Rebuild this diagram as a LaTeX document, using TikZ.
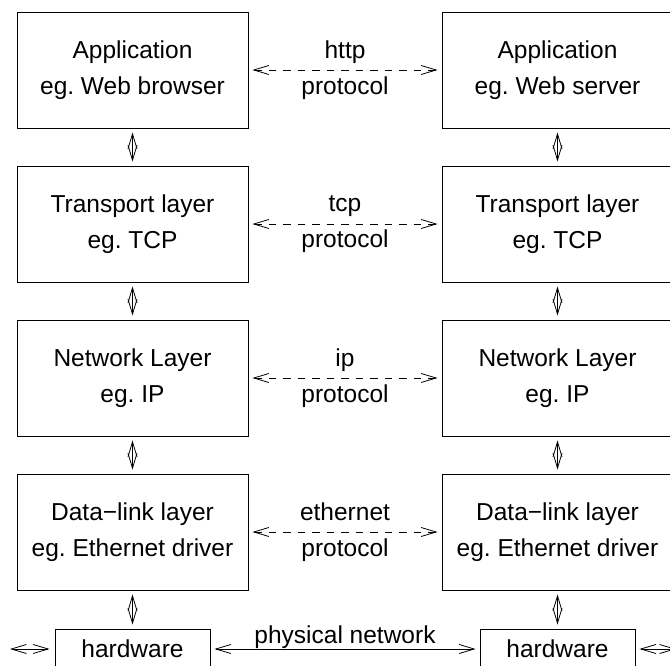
\documentclass[tikz,border=0pt]{standalone}
\usepackage{fontspec}
\setmainfont{Liberation Sans}
\usetikzlibrary{arrows.meta}

\begin{document}
\frenchspacing
\begin{tikzpicture}[x=1pt,y=-1pt,
  every node/.style={font=\fontsize{24.5}{36}\selectfont},
  layerbox/.style={draw, line width=0.9pt, minimum width=231pt, minimum height=116pt,
                   align=center, inner sep=0pt},
  hwbox/.style={draw, line width=0.9pt, minimum width=155pt, minimum height=40pt, inner sep=0pt},
  stick/.style={line width=0.8pt, {Straight Barb[length=15pt,width=9pt]}-{Straight Barb[length=15pt,width=9pt]}},
  updown/.style={stick, shorten <=4pt, shorten >=4pt},
  peer/.style={stick, dash pattern=on 7.5pt off 7pt, shorten <=4pt, shorten >=4pt},
  lbl/.style={align=center, inner sep=0pt}]
\useasboundingbox (0,0) rectangle (670,666);
\clip (0,0) rectangle (670,666);

% protocol stacks, client side and server side
\node[layerbox] (a1) at (132.5,70)  {Application\\eg. Web browser};
\node[layerbox] (a2) at (132.5,224) {Transport layer\\eg. TCP};
\node[layerbox] (a3) at (132.5,378) {Network Layer\\eg. IP};
\node[layerbox] (a4) at (132.5,532) {Data−link layer\\eg. Ethernet driver};
\node[hwbox]    (ah) at (132.5,649) {hardware};

\node[layerbox] (b1) at (557.5,70)  {Application\\eg. Web server};
\node[layerbox] (b2) at (557.5,224) {Transport layer\\eg. TCP};
\node[layerbox] (b3) at (557.5,378) {Network Layer\\eg. IP};
\node[layerbox] (b4) at (557.5,532) {Data−link layer\\eg. Ethernet driver};
\node[hwbox]    (bh) at (557.5,649) {hardware};

% links between adjacent layers
\foreach \s in {a,b}{
  \draw[updown] (\s1.south) -- (\s2.north);
  \draw[updown] (\s2.south) -- (\s3.north);
  \draw[updown] (\s3.south) -- (\s4.north);
  \draw[updown] (\s4.south) -- (\s h.north);
}

% peer protocols
\draw[peer] (a1.east) -- (b1.west) node[lbl, midway] (p1) {http\\protocol};
\draw[peer] (a2.east) -- (b2.west) node[lbl, midway] (p2) {tcp\\protocol};
\draw[peer] (a3.east) -- (b3.west) node[lbl, midway] (p3) {ip\\protocol};
\draw[peer] (a4.east) -- (b4.west) node[lbl, midway] (p4) {ethernet\\protocol};

% physical network
\draw[updown] (ah.east) -- (bh.west)
  node[midway, anchor=base, yshift=6pt, inner sep=0pt] (pn) {physical network};

\coordinate (lo) at (10,649);
\coordinate (ro) at (676,649);
\draw[stick] (lo) -- ([xshift=-5pt]ah.west);
\draw[stick] ([xshift=4pt]bh.east) -- (ro);
\end{tikzpicture}
\end{document}
